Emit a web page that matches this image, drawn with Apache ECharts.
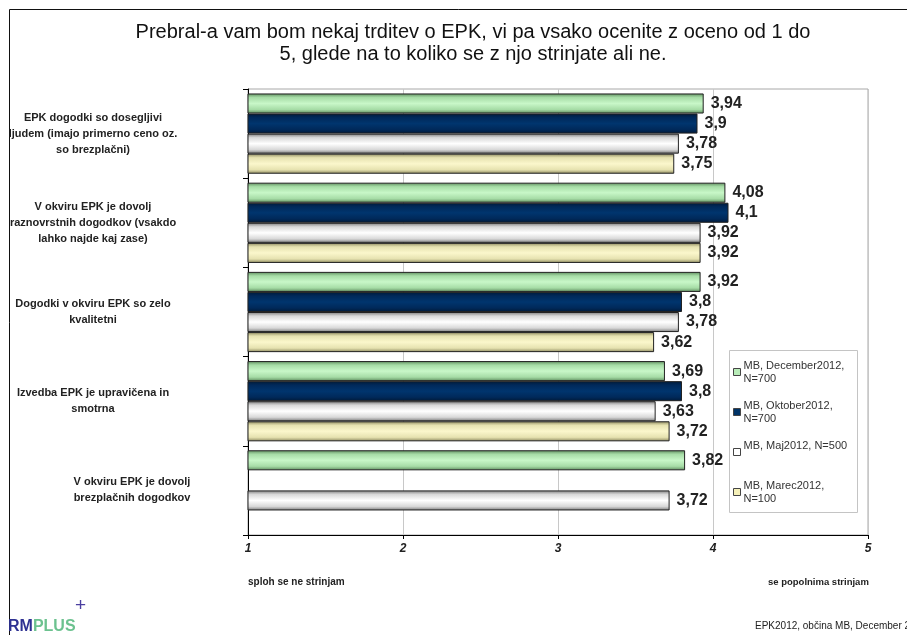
<!DOCTYPE html>
<html>
<head>
<meta charset="utf-8">
<title>EPK</title>
<script src="https://cdn.jsdelivr.net/npm/echarts/dist/echarts.min.js"></script>
<style>
	html, body { margin: 0; padding: 0; background: #fff; }
	#chart { width: 907px; height: 635px; }
</style>
</head>
<body>
<div id="chart"></div>
<script>
// trditve
var categories = [
	'EPK dogodki so dosegljivi\nljudem (imajo primerno ceno oz.\nso brezplačni)',
	'V okviru EPK je dovolj\nraznovrstnih dogodkov (vsakdo\nlahko najde kaj zase)',
	'Dogodki v okviru EPK so zelo\nkvalitetni',
	'Izvedba EPK je upravičena in\nsmotrna',
	'V okviru EPK je dovolj\nbrezplačnih dogodkov'
];
var seriesNames = [
	'MB, December2012,\nN=700',
	'MB, Oktober2012,\nN=700',
	'MB, Maj2012, N=500\n',
	'MB, Marec2012,\nN=100'
];
var december2012 = [3.94, 4.08, 3.92, 3.69, 3.82];
var oktober2012 = [3.9, 4.1, 3.8, 3.8, null];
var maj2012 = [3.78, 3.92, 3.78, 3.63, 3.72];
var marec2012 = [3.75, 3.92, 3.62, 3.72, null];
var xTicks = [1, 2, 3, 4, 5];

var myChart = echarts.init(document.getElementById('chart'));

// senceni stolpci kot v excelu
function shade(edge, mid, center) {
	return new echarts.graphic.LinearGradient(0, 0, 0, 1, [
		{offset: 0, color: edge},
		{offset: 0.2, color: mid},
		{offset: 0.5, color: center},
		{offset: 0.8, color: mid},
		{offset: 1, color: edge}
	]);
}
var fills = [
	shade('#5e8c5e', '#a6dca6', '#c8f7c8'),
	shade('#001a38', '#00295a', '#00356e'),
	shade('#7a7a7a', '#d8d8d8', '#ffffff'),
	shade('#8c885e', '#e6e2b0', '#fbf7cc')
];
var legendColors = ['#b8ecb8', '#003366', '#ffffff', '#f5f0b8'];
var values = [december2012, oktober2012, maj2012, marec2012];

var series = [];
for (var i = 0; i < values.length; i++) {
	series.push({
		name: seriesNames[i],
		type: 'bar',
		data: values[i],
		barGap: '0%',
		barCategoryGap: '10%',
		itemStyle: {color: fills[i], borderColor: '#222', borderWidth: 1},
		label: {
			show: true,
			position: 'right',
			distance: 7,
			fontFamily: 'Liberation Sans',
			fontSize: 16,
			fontWeight: 'bold',
			color: '#222',
			formatter: function(p) {
				return String(p.value).replace('.', ',');
			}
		}
	});
}

// zadnja trditev je v originalu bolj desno
var yData = categories.map(function(c, idx) {
	if (idx == categories.length - 1) {
		return {value: c, textStyle: {align: 'center', padding: [0, 0, 0, 78]}};
	}
	return c;
});

var option = {
	animation: false,
	textStyle: {fontFamily: 'Liberation Sans'},
	title: {
		text: 'Prebral-a vam bom nekaj trditev o EPK, vi pa vsako ocenite z oceno od 1 do\n5, glede na to koliko se z njo strinjate ali ne.',
		left: 468,
		top: 16,
		textAlign: 'center',
		textStyle: {fontFamily: 'Liberation Sans', fontSize: 20, fontWeight: 'normal', lineHeight: 22, color: '#111'}
	},
	legend: {
		orient: 'vertical',
		left: 733,
		top: 359,
		align: 'left',
		itemWidth: 7,
		itemHeight: 7,
		itemGap: 14,
		padding: 0,
		textStyle: {fontSize: 11, color: '#333', lineHeight: 13, padding: [0, 0, 0, -2]},
		data: seriesNames.map(function(n, idx) {
			return {name: n, icon: 'rect', itemStyle: {color: legendColors[idx], borderColor: '#444', borderWidth: 1}};
		})
	},
	grid: {
		left: 248,
		right: 39,
		top: 89,
		bottom: 100,
		outerBoundsMode: 'none',
		containLabel: false,
		show: true,
		borderColor: '#a8a8a8',
		borderWidth: 1
	},
	xAxis: {
		type: 'value',
		min: xTicks[0],
		max: xTicks[xTicks.length - 1],
		interval: 1,
		axisLine: {show: true, lineStyle: {color: '#000', width: 1}},
		axisTick: {show: true, length: 4, lineStyle: {color: '#000'}},
		splitLine: {show: true, lineStyle: {color: '#c8c8c8'}},
		axisLabel: {fontSize: 12, fontWeight: 'bold', fontStyle: 'italic', color: '#222', margin: 8}
	},
	yAxis: {
		type: 'category',
		inverse: true,
		data: yData,
		axisLine: {show: true, lineStyle: {color: '#000', width: 1}},
		axisTick: {show: true, length: 5, lineStyle: {color: '#000'}},
		axisLabel: {
			fontSize: 11,
			fontWeight: 'bold',
			color: '#222',
			lineHeight: 16,
			align: 'center',
			margin: 155
		}
	},
	graphic: [
		{type: 'rect', z: -1, shape: {x: 9.5, y: 9.5, width: 1000, height: 1000}, style: {fill: '#fff', stroke: '#111', lineWidth: 1}},
		{type: 'rect', z: 1, shape: {x: 729.5, y: 350.5, width: 128, height: 162}, style: {fill: 'none', stroke: '#c4c4c4', lineWidth: 1}},
		{type: 'text', left: 248, top: 577, style: {text: 'sploh se ne strinjam', fontSize: 10, fontWeight: 'bold', fill: '#222'}},
		{type: 'text', left: 768, top: 577, style: {text: 'se popolnima strinjam', fontSize: 9.5, fontWeight: 'bold', fill: '#222'}},
		{type: 'text', left: 755, top: 621, style: {text: 'EPK2012, občina MB, December 2012', fontSize: 10, fill: '#222'}},
		{type: 'text', left: 8, top: 619, style: {
			text: '{rm|RM}{pl|PLUS}',
			rich: {
				rm: {fontSize: 16, fontWeight: 'bold', fill: '#2e3192', fontFamily: 'Liberation Sans'},
				pl: {fontSize: 16, fontWeight: 'bold', fill: '#6cc28f', fontFamily: 'Liberation Sans'}
			}
		}},
		{type: 'text', left: 75, top: 596, style: {text: '+', fontSize: 19, fill: '#4b3fa0', fontFamily: 'Liberation Sans'}}
	],
	series: series
};
myChart.setOption(option);
</script>
</body>
</html>
